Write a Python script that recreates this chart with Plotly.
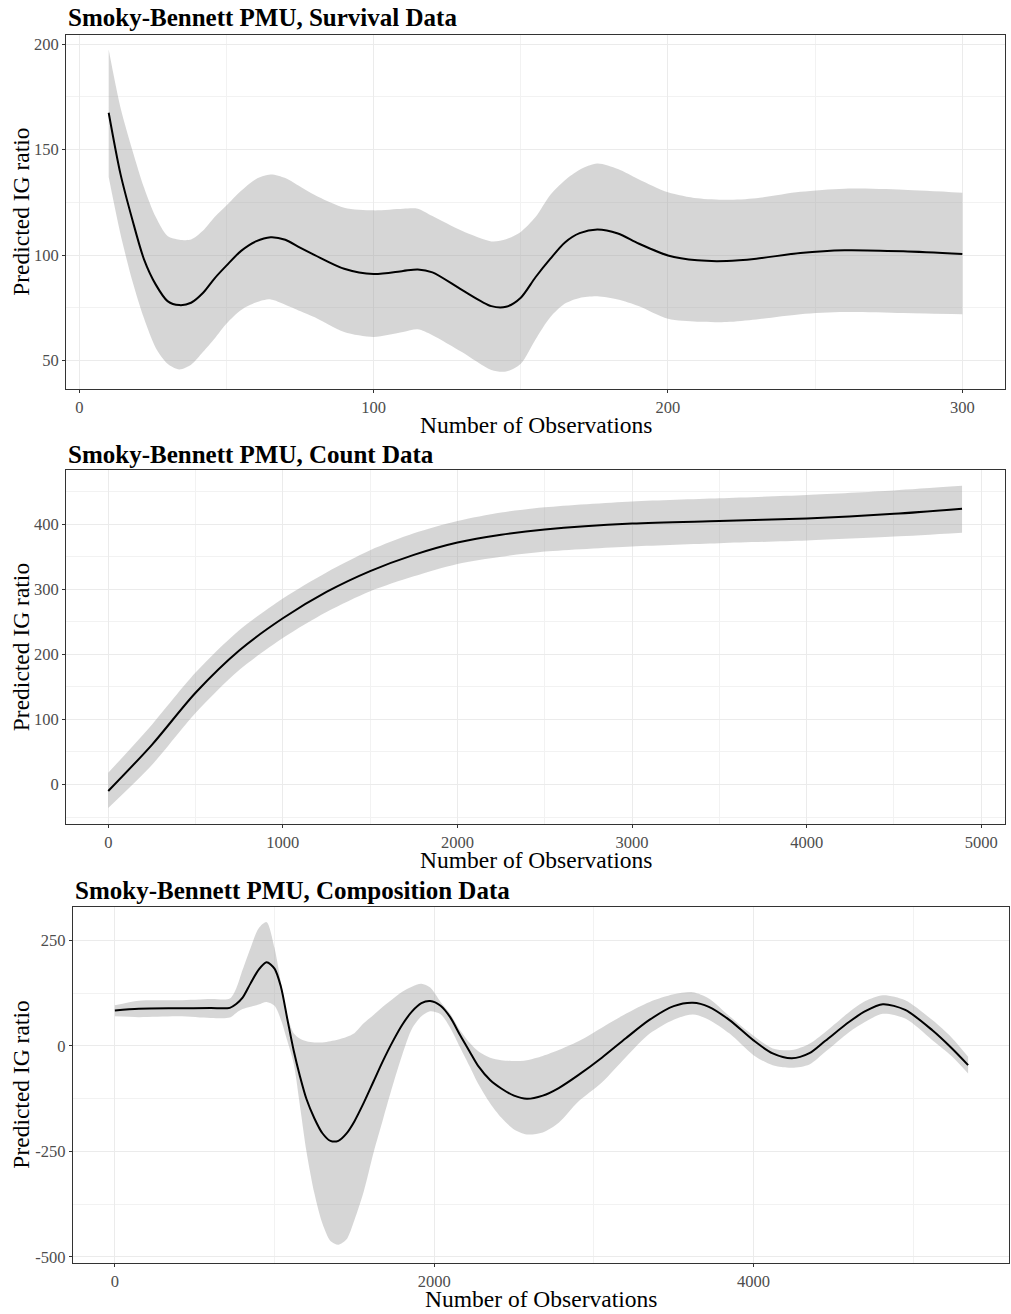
import plotly.graph_objects as go

W, H = 1011, 1314

# ---- Survival data: fitted IG ratio with confidence band ----
surv_n = [10, 14, 18, 22, 26, 30, 34, 38, 42, 46,
          50, 55, 60, 65, 70, 75, 80, 90, 100, 110,
          115, 120, 130, 140, 145, 150, 155, 160, 165, 170,
          176, 183, 190, 200, 210, 220, 230, 245, 260, 280,
          300]
surv_fit = [167.5, 138.5, 117, 98, 86, 78.2, 76.3, 77.4, 82, 89,
            95, 102, 106.5, 108.5, 107.3, 103.5, 100, 93.5, 91, 92.5,
            93.2, 91.8, 83.5, 75.8, 75.5, 79.8, 89.5, 98.2, 106, 110.4,
            112.1, 110.2, 105.5, 99.8, 97.5, 97.2, 98.3, 101, 102.3, 101.8,
            100.5]
surv_hi = [197.5, 170, 150, 132, 118, 109, 107.3, 107.4, 111.5, 118,
           123.5, 130.5, 136, 138.2, 136.5, 132.5, 128.5, 122.5, 121.2, 122,
           122, 118.5, 111.5, 106.5, 107.5, 111, 118, 128.5, 135.5, 140.5,
           143.4, 140.8, 136, 129.8, 126.9, 126.2, 127, 130, 131.5, 131,
           129.6]
surv_lo = [137, 110, 88, 70, 56, 48.5, 45.8, 48, 54, 60.5,
           67.5, 74, 77.5, 79, 76.5, 73.5, 70.5, 63.5, 61.2, 63.5,
           64.8, 62, 54, 45.5, 44.8, 48.5, 60, 70.5, 77, 79.7,
           80.5, 79, 75.9, 69.8, 68.4, 68.3, 69.5, 72, 73, 72.5,
           71.9]
surv_xticks = [0, 100, 200, 300]
surv_yticks = [50, 100, 150, 200]

# ---- Count data ----
count_n = [0, 250, 500, 750, 1000, 1250, 1500, 1750, 2000, 2250,
           2500, 3000, 3500, 4000, 4500, 4890]
count_fit = [-10, 61, 141, 206, 255.5, 296, 328, 353, 372, 384,
             392, 401, 405, 409, 416, 424]
count_hi = [18, 92, 172, 237, 286, 326, 360, 386, 405, 418,
            426, 435, 440, 445, 452, 459]
count_lo = [-36, 30, 110, 176, 225, 265, 297, 320, 339, 350,
            358, 366, 371, 375, 381, 387]
count_xticks = [0, 1000, 2000, 3000, 4000, 5000]
count_yticks = [0, 100, 200, 300, 400]

# ---- Composition data ----
comp_n = [0, 150, 400, 600, 720, 760, 800, 850, 900, 950,
          1000, 1040, 1080, 1120, 1160, 1200, 1250, 1300, 1350, 1400,
          1450, 1500, 1560, 1620, 1680, 1740, 1800, 1860, 1920, 1975,
          2040, 2100, 2160, 2220, 2280, 2350, 2420, 2500, 2580, 2680,
          2780, 2900, 3050, 3200, 3350, 3500, 3620, 3720, 3850, 4000,
          4120, 4240, 4350, 4450, 4600, 4700, 4810, 4950, 5120, 5240,
          5344]
comp_fit = [84, 88, 89, 89.5, 90, 99, 114, 148, 180, 198,
            183, 140, 64, -11, -73, -126, -172, -207, -225, -225,
            -208, -179, -134, -84.5, -35, 10, 50, 81, 101, 106,
            95, 68, 27, -12, -50, -81, -101, -118, -125.5, -118,
            -100, -70, -28, 18, 62, 94, 102, 92.5, 61, 13,
            -18, -29.6, -17.5, 12, 57, 82, 98.5, 85, 37, -5,
            -45.6]
comp_hi = [96, 107, 108, 111, 112, 136, 180, 232, 278, 293,
           232, 150, 72, 30, 17, 11, 8, 8, 11, 15,
           21, 30, 54, 73, 93, 111, 128, 140, 147, 138,
           104, 76, 38, 8, -14, -28, -34, -36, -34, -24,
           -10, 10, 43, 76, 104, 122, 127, 112, 70, 24,
           -6, -10, 5, 33, 80, 106, 120, 108, 61, 20,
           -26]
comp_lo = [70, 68, 70, 66, 67, 78, 87, 92.5, 98, 104,
           95, 62, 12, -42, -144, -250, -350, -421, -462, -471,
           -459, -413, -343, -253, -173, -94, -21, 40, 70, 82,
           75, 43, -2, -47, -93, -136, -170, -198, -210, -205,
           -182, -133, -87, -27, 29, 62, 74, 62, 29, -22,
           -46, -52, -44, -14, 33, 57, 76, 64.6, 13.5, -24,
           -65.5]
comp_xticks = [0, 2000, 4000]
comp_yticks = [-500, -250, 0, 250]

titles = ["Smoky-Bennett PMU, Survival Data",
          "Smoky-Bennett PMU, Count Data",
          "Smoky-Bennett PMU, Composition Data"]
x_label = "Number of Observations"
y_label = "Predicted IG ratio"

FONT = "Liberation Serif"
BAND = "rgba(153,153,153,0.4)"
GRID_MAJOR = "#ebebeb"
GRID_MINOR = "#f2f2f2"

# panel geometry in pixels: (left, right, top, bottom)
panels = [(66, 1005, 35, 390), (66, 1005, 471.7, 826.7), (72.7, 1009, 909.3, 1266.7)]
series = [(surv_n, surv_fit, surv_lo, surv_hi),
          (count_n, count_fit, count_lo, count_hi),
          (comp_n, comp_fit, comp_lo, comp_hi)]
xticks = [surv_xticks, count_xticks, comp_xticks]
yticks = [surv_yticks, count_yticks, comp_yticks]
x_ranges = [[-4.5, 314.5], [-242, 5136], [-264, 5600]]
y_ranges = [[36.6, 204.4], [-61, 483], [-514, 330]]
title_y = [18, 456, 893]
xlabel_y = [426, 863, 1303]


def minor_positions(ticks):
    """Gridline positions half way between major ticks (plus one step either side)."""
    step = ticks[1] - ticks[0]
    return [ticks[0] - step / 2] + [t + step / 2 for t in ticks]


fig = go.Figure()
layout = dict(width=W, height=H, margin=dict(l=0, r=0, t=0, b=0),
              paper_bgcolor="white", plot_bgcolor="white", showlegend=False,
              font=dict(family=FONT), annotations=[])

for i, ((l, r, t, b), (xs, fit, lo, hi)) in enumerate(zip(panels, series)):
    k = "" if i == 0 else str(i + 1)
    xa, ya = "x" + k, "y" + k
    spline = dict(shape="spline", smoothing=0.8)
    fig.add_trace(go.Scatter(x=xs, y=lo, mode="lines", line=dict(width=0, **spline),
                             xaxis=xa, yaxis=ya, hoverinfo="skip"))
    fig.add_trace(go.Scatter(x=xs, y=hi, mode="lines", fill="tonexty", fillcolor=BAND,
                             line=dict(width=0, **spline),
                             xaxis=xa, yaxis=ya, hoverinfo="skip"))
    fig.add_trace(go.Scatter(x=xs, y=fit, mode="lines",
                             line=dict(color="black", width=2, **spline),
                             xaxis=xa, yaxis=ya))

    common = dict(showline=True, mirror=True, linecolor="#333333", linewidth=1,
                  ticks="outside", ticklen=3, tickcolor="#333333", tickwidth=1,
                  showgrid=True, gridcolor=GRID_MAJOR, gridwidth=1, zeroline=False,
                  tickfont=dict(family=FONT, size=16.5, color="#4d4d4d"))
    layout["xaxis" + k] = dict(domain=[l / W, r / W], anchor=ya, range=x_ranges[i],
                               tickmode="array", tickvals=xticks[i],
                               ticktext=[str(v) for v in xticks[i]],
                               minor=dict(tickvals=minor_positions(xticks[i]), showgrid=True,
                                          gridcolor=GRID_MINOR, gridwidth=0.8, ticks=""),
                               **common)
    layout["yaxis" + k] = dict(domain=[1 - b / H, 1 - t / H], anchor=xa, range=y_ranges[i],
                               tickmode="array", tickvals=yticks[i],
                               ticktext=[str(v) for v in yticks[i]],
                               minor=dict(tickvals=minor_positions(yticks[i]), showgrid=True,
                                          gridcolor=GRID_MINOR, gridwidth=0.8, ticks=""),
                               **common)

    # panel title
    layout["annotations"].append(dict(text="<b>" + titles[i] + "</b>", xref="paper", yref="paper",
                                      x=l / W, y=1 - title_y[i] / H, xanchor="left", yanchor="middle",
                                      showarrow=False, font=dict(family=FONT, size=25, color="black")))
    # x axis title
    layout["annotations"].append(dict(text=x_label, xref="paper", yref="paper",
                                      x=(l + r) / 2 / W, y=1 - xlabel_y[i] / H, xanchor="center",
                                      yanchor="middle", showarrow=False,
                                      font=dict(family=FONT, size=23.5, color="black")))
    # y axis title
    layout["annotations"].append(dict(text=y_label, xref="paper", yref="paper", textangle=-90,
                                      x=21 / W, y=1 - (t + b) / 2 / H, xanchor="center",
                                      yanchor="middle", showarrow=False,
                                      font=dict(family=FONT, size=23.5, color="black")))

fig.update_layout(**layout)
fig.write_html("out.html")
